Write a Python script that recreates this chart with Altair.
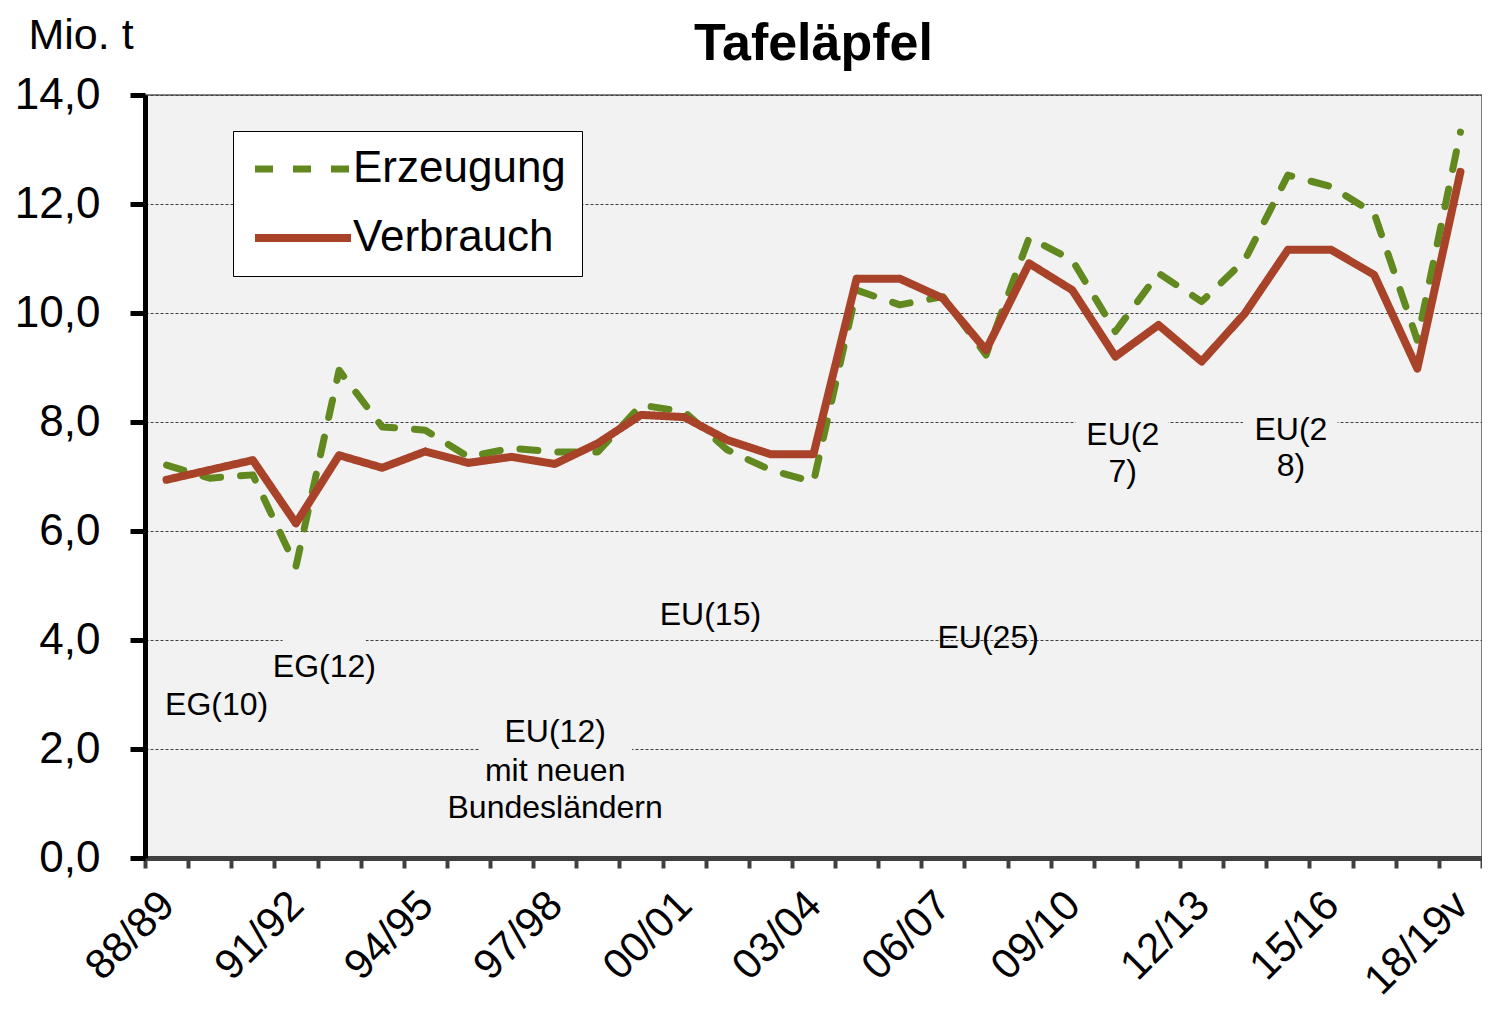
import altair as alt
import pandas as pd

seasons = ["88/89", "89/90", "90/91", "91/92", "92/93", "93/94", "94/95", "95/96",
           "96/97", "97/98", "98/99", "99/00", "00/01", "01/02", "02/03", "03/04",
           "04/05", "05/06", "06/07", "07/08", "08/09", "09/10", "10/11", "11/12",
           "12/13", "13/14", "14/15", "15/16", "16/17", "17/18", "18/19v"]
erzeugung = [7.21, 6.97, 7.03, 5.35, 8.95, 7.91, 7.85, 7.36, 7.52, 7.45, 7.45,
             8.31, 8.19, 7.49, 7.12, 6.90, 10.42, 10.15, 10.30, 9.23, 11.38,
             10.97, 9.66, 10.73, 10.21, 10.97, 12.53, 12.32, 11.83, 9.50, 13.32]
verbrauch = [6.94, 7.12, 7.30, 6.14, 7.39, 7.16, 7.46, 7.25, 7.36, 7.23, 7.61,
             8.13, 8.09, 7.67, 7.41, 7.41, 10.63, 10.63, 10.27, 9.32, 10.91,
             10.42, 9.20, 9.78, 9.11, 9.99, 11.16, 11.16, 10.70, 8.98, 12.59]
series_names = ["Erzeugung", "Verbrauch"]

# annotation labels (position in category index / value units)
ann_text = ["EG(10)", "EG(12)", "EU(12)", "mit neuen", "Bundesländern",
            "EU(15)", "EU(25)", "EU(2", "7)", "EU(2", "8)"]
ann_x = [1.16, 3.66, 9.01, 9.01, 9.01, 12.61, 19.05, 22.17, 22.17, 26.07, 26.07]
ann_y = [2.81, 3.50, 2.31, 1.60, 0.92, 4.46, 4.04, 7.76, 7.08, 7.85, 7.19]

# background boxes behind some annotation labels
box_x1 = [2.69, 7.26, 21.08, 24.96]
box_x2 = [4.62, 10.79, 23.23, 27.15]
box_y1 = [3.0, 0.6, 6.6, 6.7]
box_y2 = [4.15, 2.6, 8.3, 8.35]

y_ticks = [0, 2, 4, 6, 8, 10, 12, 14]

GREEN = "#62891f"
RED = "#a8432a"
FONT = "Liberation Sans"

rows = []
for name, vals in zip(series_names, [erzeugung, verbrauch]):
    for i, v in enumerate(vals):
        rows.append({"idx": i, "value": v, "series": name})
df = pd.DataFrame(rows)
ann_df = pd.DataFrame({"idx": ann_x, "value": ann_y, "text": ann_text})
box_df = pd.DataFrame({"idx": box_x1, "idx2": box_x2, "value": box_y1, "value2": box_y2})

n = len(seasons)
x_scale = alt.Scale(domain=[-0.5, n - 0.5], nice=False, zero=False)
y_scale = alt.Scale(domain=[0, 14], nice=False, zero=True)

labels_js = "[" + ",".join("'%s'" % s for s in seasons) + "]"
x_label_expr = f"((datum.value + 0.5) % 3 == 0) ? {labels_js}[datum.value + 0.5] : ''"
boundaries = [i - 0.5 for i in range(n + 1)]

x_axis = alt.Axis(
    values=boundaries, labelExpr=x_label_expr, labelAngle=-45,
    labelAlign="right", labelBaseline="middle", labelOffset=22, labelPadding=30,
    labelFontSize=42, labelFont=FONT, labelColor="black",
    labelOverlap=False, labelFlush=False, labelBound=False,
    tickSize=10, tickWidth=4, tickColor="#404040",
    domainColor="#404040", domainWidth=5, grid=False, title=None,
)
y_axis = alt.Axis(
    values=y_ticks, labelExpr="replace(format(datum.value, '.1f'), '.', ',')",
    labelFontSize=44, labelFont=FONT, labelColor="black", labelPadding=30,
    tickSize=15, tickWidth=5, tickColor="black",
    domainColor="black", domainWidth=5,
    grid=True, gridDash=[3, 2], gridColor="#404040", gridWidth=1,
    title="Mio. t", titleAngle=0, titleAlign="left", titleBaseline="alphabetic",
    titleX=-117, titleY=-47, titleFontSize=43, titleFontWeight="normal",
    titleFont=FONT, titleColor="black",
)

legend = alt.Legend(
    title=None, orient="none", legendX=88, legendY=36,
    symbolType="M-1,0L5,0", symbolSize=1024, symbolStrokeWidth=8,
    labelFontSize=44, labelFont=FONT, labelColor="black", labelLimit=500,
    labelOffset=60, fillColor="white", strokeColor="black",
    padding=16, rowPadding=25,
)

boxes = alt.Chart(box_df).mark_rect(fill="#f2f2f2").encode(
    x=alt.X("idx:Q", scale=x_scale, axis=x_axis),
    x2="idx2",
    y=alt.Y("value:Q", scale=y_scale, axis=y_axis),
    y2="value2",
)

lines = alt.Chart(df).mark_line(strokeCap="round", strokeJoin="round").encode(
    x=alt.X("idx:Q", scale=x_scale, axis=x_axis),
    y=alt.Y("value:Q", scale=y_scale, axis=y_axis),
    color=alt.Color("series:N", scale=alt.Scale(domain=series_names, range=[GREEN, RED]),
                    legend=legend),
    strokeDash=alt.StrokeDash("series:N",
                              scale=alt.Scale(domain=series_names, range=[[18, 20], [1, 0]]),
                              legend=legend),
    strokeWidth=alt.StrokeWidth("series:N",
                                scale=alt.Scale(domain=series_names, range=[7, 8]),
                                legend=None),
)

texts = alt.Chart(ann_df).mark_text(
    font=FONT, fontSize=32, align="center", baseline="middle", color="black"
).encode(
    x=alt.X("idx:Q", scale=x_scale, axis=x_axis),
    y=alt.Y("value:Q", scale=y_scale, axis=y_axis),
    text="text:N",
)

chart = alt.layer(boxes, lines, texts).properties(
    width=1337, height=763,
    title=alt.Title("Tafeläpfel", fontSize=52, fontWeight="bold", font=FONT,
                    anchor="middle", frame="group", color="black", offset=0, dy=57),
    autosize=alt.AutoSizeParams(type="none"),
    padding={"left": 137, "top": 87, "right": 0, "bottom": 145},
).configure_view(
    fill="#f2f2f2", stroke="#595959", strokeWidth=1.5
)

chart.save("out.html", embed_options={"renderer": "svg", "actions": False})
